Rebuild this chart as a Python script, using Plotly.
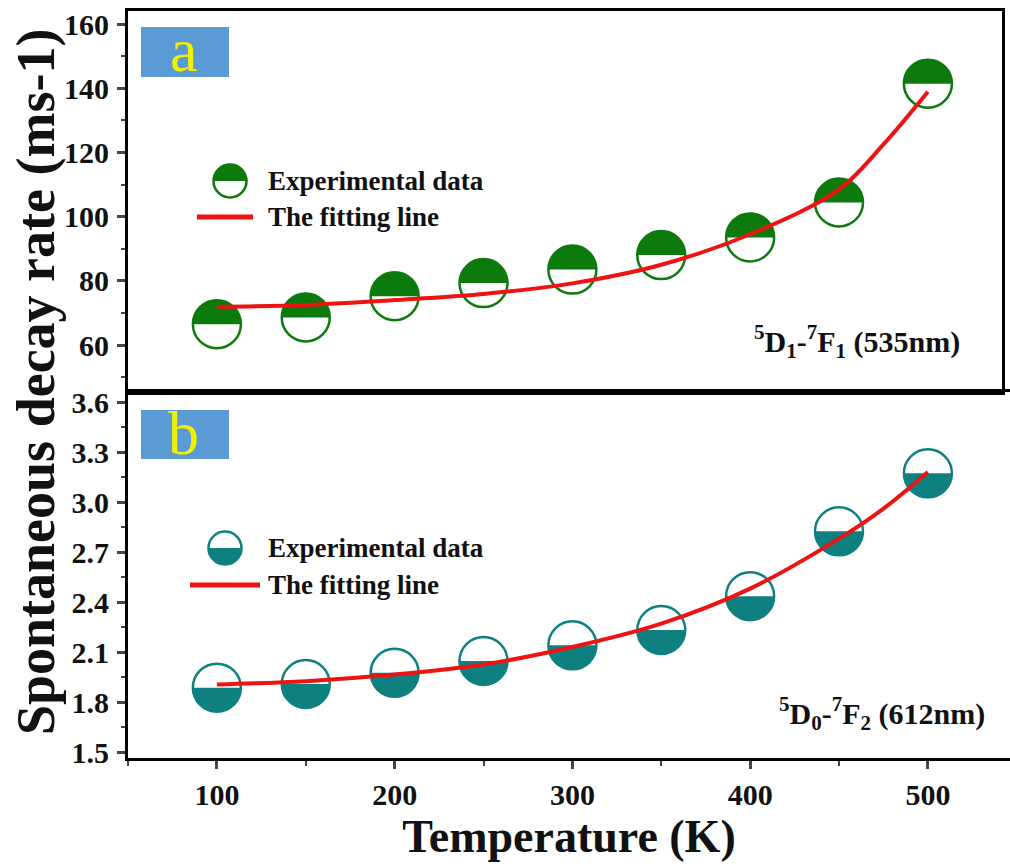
import plotly.graph_objects as go

# ---------------- data ----------------
temps = [100, 150, 200, 250, 300, 350, 400, 450, 500]
rate_535 = [66.5, 68.6, 75.2, 79.3, 83.5, 88.0, 93.5, 104.4, 141.4]
rate_612 = [1.886, 1.908, 1.975, 2.046, 2.14, 2.232, 2.435, 2.824, 3.172]

fit_T = [100, 150, 200, 250, 300, 350, 400, 450, 475, 500]
fit_535 = [71.9, 72.5, 74.0, 75.9, 79.2, 85.0, 94.5, 108.5, 122.5, 138.9]
fit_612 = [1.905, 1.925, 1.965, 2.025, 2.13, 2.27, 2.48, 2.78, 2.96, 3.18]

x_ticks = [100, 200, 300, 400, 500]
y_ticks_a = [60, 80, 100, 120, 140, 160]
y_ticks_b = [1.5, 1.8, 2.1, 2.4, 2.7, 3.0, 3.3, 3.6]

GREEN = "#0c7a0c"
TEAL = "#0f8080"
RED = "#ee1313"
FONT = "Liberation Serif"

W, H = 1010, 867
ML, MT, MB = 128, 11, 109
PW, PH = W - ML, H - MT - MB


def px(x):
    return (x - ML) / PW


def py(y):
    return (H - MB - y) / PH


def half_path(r, upper):
    k = 0.5523 * r
    s = 1 if upper else -1
    return (f"M {-r},0 C {-r},{s*k:.2f} {-k:.2f},{s*r} 0,{s*r} "
            f"C {k:.2f},{s*r} {r},{s*k:.2f} {r},0 Z")


fig = go.Figure()

R = 24
# panel a markers
fig.add_trace(go.Scatter(x=temps, y=rate_535, mode="markers", xaxis="x", yaxis="y",
                         marker=dict(symbol="circle", size=2 * R, color="rgba(0,0,0,0)",
                                     line=dict(color=GREEN, width=2.5)),
                         showlegend=False))
fig.add_trace(go.Scatter(x=fit_T, y=fit_535, mode="lines", xaxis="x", yaxis="y",
                         line=dict(color=RED, width=4, shape="spline"), showlegend=False))
# panel b markers
fig.add_trace(go.Scatter(x=temps, y=rate_612, mode="markers", xaxis="x2", yaxis="y2",
                         marker=dict(symbol="circle", size=2 * R, color="rgba(0,0,0,0)",
                                     line=dict(color=TEAL, width=2.5)),
                         showlegend=False))
fig.add_trace(go.Scatter(x=fit_T, y=fit_612, mode="lines", xaxis="x2", yaxis="y2",
                         line=dict(color=RED, width=4, shape="spline"), showlegend=False))

shapes = []
for t, v in zip(temps, rate_535):
    shapes.append(dict(type="path", xref="x", yref="y", xsizemode="pixel", ysizemode="pixel",
                       xanchor=t, yanchor=v, path=half_path(R, True),
                       fillcolor=GREEN, line=dict(width=0), layer="below"))
for t, v in zip(temps, rate_612):
    shapes.append(dict(type="path", xref="x2", yref="y2", xsizemode="pixel", ysizemode="pixel",
                       xanchor=t, yanchor=v, path=half_path(R, False),
                       fillcolor=TEAL, line=dict(width=0), layer="below"))

# legend markers
LR = 16.5
for cx, cy, col, upper in [(230, 181, GREEN, True), (225, 548, TEAL, False)]:
    shapes.append(dict(type="circle", xref="paper", yref="paper", xsizemode="pixel",
                       ysizemode="pixel", xanchor=px(cx), yanchor=py(cy),
                       x0=-LR, x1=LR, y0=-LR, y1=LR, fillcolor="white",
                       line=dict(color=col, width=2.5)))
    shapes.append(dict(type="path", xref="paper", yref="paper", xsizemode="pixel",
                       ysizemode="pixel", xanchor=px(cx), yanchor=py(cy),
                       path=half_path(LR, upper), fillcolor=col, line=dict(width=0)))
# legend lines
for x0, x1, yy in [(197, 253, 217), (190, 260, 585)]:
    shapes.append(dict(type="line", xref="paper", yref="paper", x0=px(x0), x1=px(x1),
                       y0=py(yy), y1=py(yy), line=dict(color=RED, width=5)))
# panel label boxes
for y0, y1 in [(27, 77), (410, 459)]:
    shapes.append(dict(type="rect", xref="paper", yref="paper", x0=px(141), x1=px(229),
                       y0=py(y1), y1=py(y0), fillcolor="#5b9bd5", line=dict(width=0)))

ann = []
for cy, txt in [(181, "Experimental data"), (217, "The fitting line"),
                (548, "Experimental data"), (585, "The fitting line")]:
    ann.append(dict(x=px(266), y=py(cy), xref="paper", yref="paper", text=txt,
                    xanchor="left", yanchor="middle", showarrow=False,
                    font=dict(family=FONT, size=27, color="#111111", weight="bold")))
for cx, cy, lab in [(184, 50, "a"), (183, 433, "b")]:
    ann.append(dict(x=px(cx), y=py(cy), xref="paper", yref="paper", text=lab,
                    xanchor="center", yanchor="middle", showarrow=False,
                    font=dict(family=FONT, size=62, color="#f0f000")))
ann.append(dict(x=px(962), y=py(341), xref="paper", yref="paper",
                text="<sup>5</sup>D<sub>1</sub>-<sup>7</sup>F<sub>1</sub> (535nm)",
                xanchor="right", yanchor="middle", showarrow=False,
                font=dict(family=FONT, size=30, color="#111111", weight="bold")))
ann.append(dict(x=px(987), y=py(713), xref="paper", yref="paper",
                text="<sup>5</sup>D<sub>0</sub>-<sup>7</sup>F<sub>2</sub> (612nm)",
                xanchor="right", yanchor="middle", showarrow=False,
                font=dict(family=FONT, size=30, color="#111111", weight="bold")))
ann.append(dict(x=px(36), y=py(382), xref="paper", yref="paper",
                text="Spontaneous decay rate (ms-1)", textangle=-90,
                xanchor="center", yanchor="middle", showarrow=False,
                font=dict(family=FONT, size=54, color="#111111", weight="bold")))

split = py(392)
tickfont = dict(family=FONT, size=30, color="#111111", weight="bold")
x_scale = 1.7775
top_right = (1002 - ML) / PW

fig.update_layout(
    width=W, height=H, margin=dict(l=ML, r=0, t=MT, b=MB),
    paper_bgcolor="white", plot_bgcolor="white",
    shapes=shapes, annotations=ann,
    xaxis=dict(domain=[0, top_right], anchor="y", range=[50, 50 + 874 / x_scale],
               showticklabels=False, ticks="", showgrid=False, zeroline=False,
               showline=True, linecolor="black", linewidth=3, mirror=True),
    yaxis=dict(domain=[split, 1], anchor="x", range=[45.36, 164.05],
               tickvals=y_ticks_a, ticks="outside", ticklen=8, tickwidth=2.5,
               minor=dict(dtick=10, ticks="outside", ticklen=4, tickwidth=2),
               tickfont=tickfont, ticklabelstandoff=2,
               showgrid=False, zeroline=False,
               showline=True, linecolor="black", linewidth=3, mirror=True),
    xaxis2=dict(domain=[0, 1], anchor="y2", range=[50, 50 + 882 / x_scale],
                tickvals=x_ticks, ticks="outside", ticklen=8, tickwidth=2.5,
                minor=dict(dtick=50, tick0=50, ticks="outside", ticklen=5, tickwidth=2),
                tickfont=tickfont, ticklabelstandoff=0,
                showgrid=False, zeroline=False,
                showline=True, linecolor="black", linewidth=3, mirror=True,
                title=dict(text="Temperature (K)", standoff=0,
                           font=dict(family=FONT, size=46, color="#111111", weight="bold"))),
    yaxis2=dict(domain=[0, split], anchor="x2", range=[1.464, 3.66],
                tickvals=y_ticks_b, tickformat=".1f", ticks="outside", ticklen=8, tickwidth=2.5,
                minor=dict(dtick=0.15, tick0=1.5, ticks="outside", ticklen=4, tickwidth=2),
                tickfont=tickfont, ticklabelstandoff=2,
                showgrid=False, zeroline=False,
                showline=True, linecolor="black", linewidth=3, mirror=False),
)

fig.write_html("out.html")
